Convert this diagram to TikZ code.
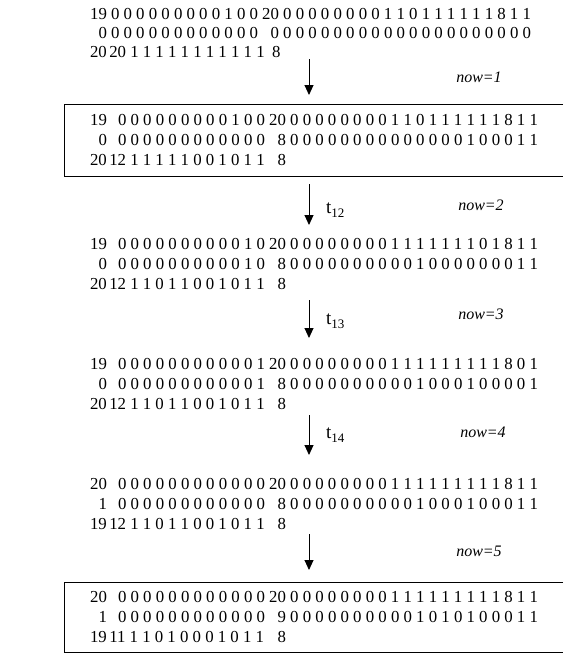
\documentclass[tikz,border=0pt]{standalone}
\usepackage{fontspec}
\setmainfont{Liberation Serif}
\usetikzlibrary{arrows.meta}
\newcommand\digitsfont{\fontsize{16.8}{20}\selectfont\spaceskip=0.25em plus 0pt minus 0pt\relax}
\tikzset{
  digitrow/.style={inner sep=0pt, outer sep=0pt, anchor=base west, font=\digitsfont},
  lead/.style={inner sep=0pt, outer sep=0pt, anchor=base east, font=\digitsfont},
  nowtag/.style={inner sep=0pt, anchor=base, font=\fontsize{16}{16}\selectfont\itshape},
  translabel/.style={inner sep=0pt, anchor=base west, font=\fontsize{19}{19}\selectfont},
  flowarrow/.style={line width=0.9pt, -{Triangle[width=9pt,length=10pt]}},
  boxline/.style={line width=1pt}
}
\newcommand\tlabel[1]{t\raisebox{-4pt}{\fontsize{13}{13}\selectfont #1}}
\newcommand\pair[2]{#1\hspace{2.5pt}#2}
\begin{document}
\begin{tikzpicture}[x=1pt,y=-1pt]
\useasboundingbox (0,0) rectangle (563,654);

% initial marking
\node[lead] (s0a) at (107,19.7) {19};
\node[digitrow] (s0b) at (111,19.7) {0 0 0 0 0 0 0 0 0 1 0 0 20 0 0 0 0 0 0 0 0 1 1 0 1 1 1 1 1 1 8 1 1};
\node[lead] (s0c) at (107,38.7) {0};
\node[digitrow] (s0d) at (111,38.7) {0 0 0 0 0 0 0 0 0 0 0 0};
\node[digitrow] (s0e) at (270.6,38.7) {0 0 0 0 0 0 0 0 0 0 0 0 0 0 0 0 0 0 0 0 0};
\node[digitrow] (s0f) at (90,57.7) {\pair{20}{20} 1 1 1 1 1 1 1 1 1 1 1};
\node[digitrow] (s0g) at (272,57.7) {8};

% now = 1 (framed)
\node[lead] (s1a) at (107,125.7) {19};
\node[digitrow] (s1b) at (118,125.7) {0 0 0 0 0 0 0 0 0 1 0 0 20 0 0 0 0 0 0 0 0 1 1 0 1 1 1 1 1 1 8 1 1};
\node[lead] (s1c) at (107,145.7) {0};
\node[digitrow] (s1d) at (118,145.7) {0 0 0 0 0 0 0 0 0 0 0 0};
\node[digitrow] (s1e) at (277.6,145.7) {8 0 0 0 0 0 0 0 0 0 0 0 0 0 0 1 0 0 0 1 1};
\node[digitrow] (s1f) at (90,165.7) {\pair{20}{12} 1 1 1 1 1 0 0 1 0 1 1};
\node[digitrow] (s1g) at (277.6,165.7) {8};

% after t12
\node[lead] (s2a) at (107,249.7) {19};
\node[digitrow] (s2b) at (118,249.7) {0 0 0 0 0 0 0 0 0 0 1 0 20 0 0 0 0 0 0 0 0 1 1 1 1 1 1 1 0 1 8 1 1};
\node[lead] (s2c) at (107,269.7) {0};
\node[digitrow] (s2d) at (118,269.7) {0 0 0 0 0 0 0 0 0 0 1 0};
\node[digitrow] (s2e) at (277.6,269.7) {8 0 0 0 0 0 0 0 0 0 0 1 0 0 0 0 0 0 0 1 1};
\node[digitrow] (s2f) at (90,289.7) {\pair{20}{12} 1 1 0 1 1 0 0 1 0 1 1};
\node[digitrow] (s2g) at (277.6,289.7) {8};

% after t13
\node[lead] (s3a) at (107,369.7) {19};
\node[digitrow] (s3b) at (118,369.7) {0 0 0 0 0 0 0 0 0 0 0 1 20 0 0 0 0 0 0 0 0 1 1 1 1 1 1 1 1 1 8 0 1};
\node[lead] (s3c) at (107,389.7) {0};
\node[digitrow] (s3d) at (118,389.7) {0 0 0 0 0 0 0 0 0 0 0 1};
\node[digitrow] (s3e) at (277.6,389.7) {8 0 0 0 0 0 0 0 0 0 0 1 0 0 0 1 0 0 0 0 1};
\node[digitrow] (s3f) at (90,409.7) {\pair{20}{12} 1 1 0 1 1 0 0 1 0 1 1};
\node[digitrow] (s3g) at (277.6,409.7) {8};

% after t14
\node[lead] (s4a) at (107,489.7) {20};
\node[digitrow] (s4b) at (118,489.7) {0 0 0 0 0 0 0 0 0 0 0 0 20 0 0 0 0 0 0 0 0 1 1 1 1 1 1 1 1 1 8 1 1};
\node[lead] (s4c) at (107,509.7) {1};
\node[digitrow] (s4d) at (118,509.7) {0 0 0 0 0 0 0 0 0 0 0 0};
\node[digitrow] (s4e) at (277.6,509.7) {8 0 0 0 0 0 0 0 0 0 0 1 0 0 0 1 0 0 0 1 1};
\node[digitrow] (s4f) at (90,529.7) {\pair{19}{12} 1 1 0 1 1 0 0 1 0 1 1};
\node[digitrow] (s4g) at (277.6,529.7) {8};

% now = 5 (framed)
\node[lead] (s5a) at (107,602.7) {20};
\node[digitrow] (s5b) at (118,602.7) {0 0 0 0 0 0 0 0 0 0 0 0 20 0 0 0 0 0 0 0 0 1 1 1 1 1 1 1 1 1 8 1 1};
\node[lead] (s5c) at (107,622.7) {1};
\node[digitrow] (s5d) at (118,622.7) {0 0 0 0 0 0 0 0 0 0 0 0};
\node[digitrow] (s5e) at (277.6,622.7) {9 0 0 0 0 0 0 0 0 0 0 1 0 1 0 1 0 0 0 1 1};
\node[digitrow] (s5f) at (90,642.7) {\pair{19}{11} 1 1 0 1 0 0 0 1 0 1 1};
\node[digitrow] (s5g) at (277.6,642.7) {8};

% frames, open on the right
\draw[boxline] (563,104) -- (64,104) -- (64,176) -- (563,176);
\draw[boxline] (563,582) -- (64,582) -- (64,652.5) -- (563,652.5);

% transitions between markings
\coordinate (a1s) at (309,59);  \coordinate (a1e) at (309,95);
\coordinate (a2s) at (309,184); \coordinate (a2e) at (309,225);
\coordinate (a3s) at (309,300); \coordinate (a3e) at (309,338);
\coordinate (a4s) at (309,415); \coordinate (a4e) at (309,455);
\coordinate (a5s) at (309,534); \coordinate (a5e) at (309,570);
\draw[flowarrow] (a1s) -- (a1e);
\draw[flowarrow] (a2s) -- (a2e);
\draw[flowarrow] (a3s) -- (a3e);
\draw[flowarrow] (a4s) -- (a4e);
\draw[flowarrow] (a5s) -- (a5e);

\node[translabel] (t12) at (326,213) {\tlabel{12}};
\node[translabel] (t13) at (326,324) {\tlabel{13}};
\node[translabel] (t14) at (326,438) {\tlabel{14}};

\node[nowtag] (n1) at (479,82.5) {now=1};
\node[nowtag] (n2) at (481,210.5) {now=2};
\node[nowtag] (n3) at (481,319.5) {now=3};
\node[nowtag] (n4) at (483,437.5) {now=4};
\node[nowtag] (n5) at (479,556.5) {now=5};
\end{tikzpicture}
\end{document}
